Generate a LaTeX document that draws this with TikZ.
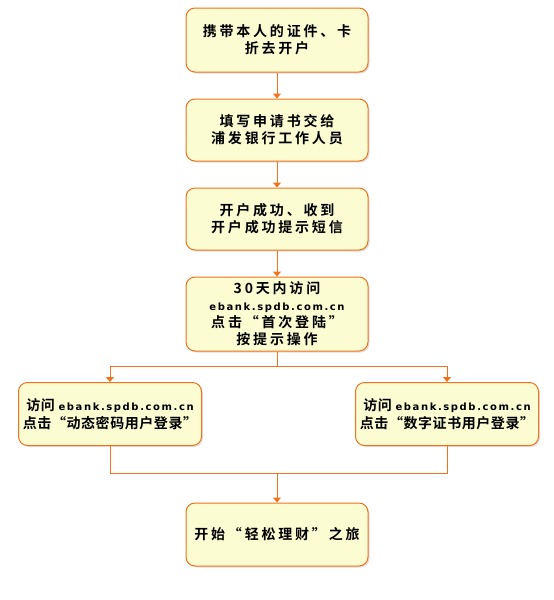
\documentclass[tikz,border=0pt]{standalone}
\usepackage{fontspec}
\usetikzlibrary{arrows.meta, positioning, shadows}
\newfontfamily\cjk[LetterSpace=20,UprightFont={* Bold}]{Noto Sans CJK SC}
\newfontfamily\cjknarrow[LetterSpace=4,UprightFont={* Bold}]{Noto Sans CJK SC}
\newfontfamily\weblatin[LetterSpace=16]{DejaVu Sans Bold}
\definecolor{stepfill}{RGB}{252,252,210}
\definecolor{stepborder}{RGB}{240,114,28}
\tikzset{
  stepbox/.style={rectangle, rounded corners=9pt, draw=stepborder, line width=1pt,
              fill=stepfill, minimum width=182pt, minimum height=62pt, align=center,
              inner sep=3pt, font=\cjk\fontsize{14pt}{17pt}\selectfont,
              drop shadow={opacity=0.25, shadow xshift=1.5pt, shadow yshift=-1.5pt}},
  sidebox/.style={stepbox, minimum width=183pt, minimum height=63pt,
              font=\cjknarrow\fontsize{14pt}{18pt}\selectfont},
  arr/.style={-{Triangle[width=8pt,length=5pt]}, line width=1pt, draw=stepborder},
  link/.style={line width=1pt, draw=stepborder}
}
\newcommand{\bankweb}{{\weblatin\fontsize{10pt}{17pt}\selectfont ebank.spdb.com.cn}}

\begin{document}
\begin{tikzpicture}[x=1pt, y=1pt, node distance=26pt]
\useasboundingbox (0,0) rectangle (554,-600);
\node[stepbox, minimum height=64pt] (b1) at (277,-40) {携带本人的证件、卡\\折去开户};
\node[stepbox, below=of b1] (b2) {填写申请书交给\\浦发银行工作人员};
\node[stepbox, below=of b2] (b3) {开户成功、收到\\开户成功提示短信};
\node[stepbox, minimum height=74pt, below=of b3] (b4) {30天内访问\\\bankweb\\点击“首次登陆”\\按提示操作};
\node[sidebox] (left) at (110,-414) {访问\ \bankweb\\点击“动态密码用户登录”};
\node[sidebox] (right) at (447,-414) {访问\ \bankweb\\点击“数字证书用户登录”};
\node[stepbox, minimum height=63pt] (fin) at (277,-534.5) {开始“轻松理财”之旅};
\coordinate (split) at (277,-366);
\coordinate (merge) at (277,-473);
\draw[arr] (b1) -- (b2);
\draw[arr] (b2) -- (b3);
\draw[arr] (b3) -- (b4);
\draw[link] (b4) -- (split);
\draw[arr] (split) -| (left.north);
\draw[arr] (split) -| (right.north);
\draw[link] (left.south) |- (merge);
\draw[link] (right.south) |- (merge);
\draw[arr] (merge) -- (fin);
\end{tikzpicture}
\end{document}
